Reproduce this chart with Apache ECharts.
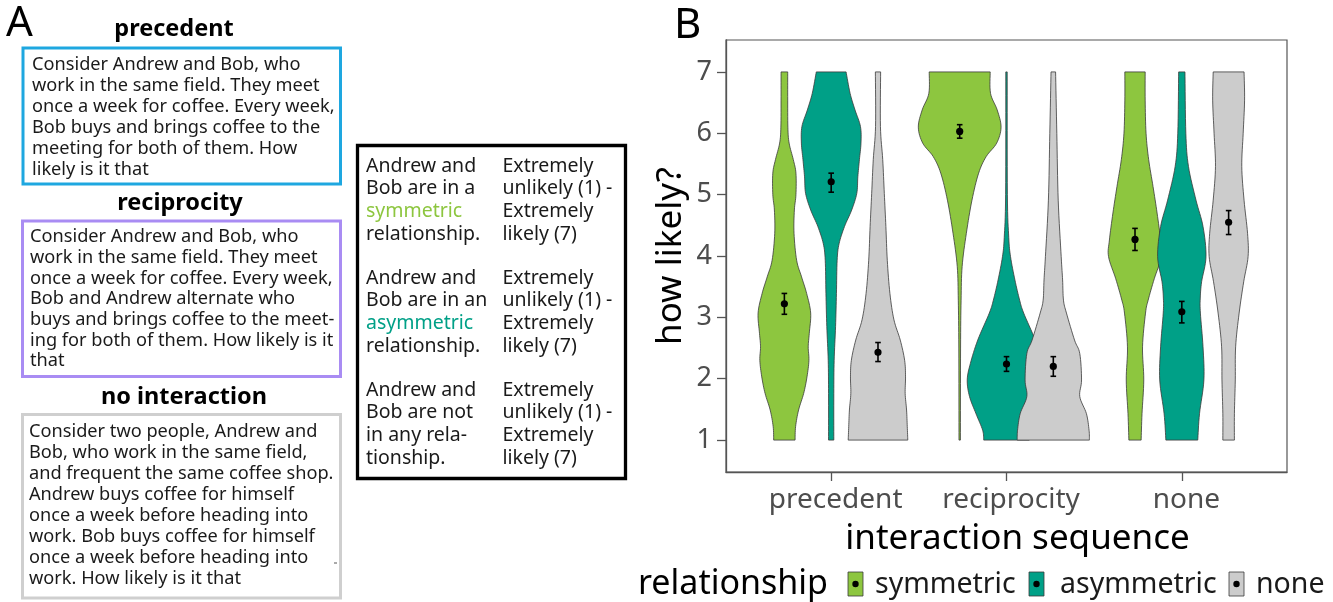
<!DOCTYPE html>
<html><head><meta charset="utf-8">
<script src="https://cdn.jsdelivr.net/npm/echarts@6/dist/echarts.min.js"></script>
<style>html,body{margin:0;padding:0;background:#fff}#c{width:1333px;height:602px}</style>
</head><body><div id="c"></div><script>
// ---------------- data ----------------
const categories = ['precedent', 'reciprocity', 'none'];
const relationships = ['symmetric', 'asymmetric', 'none'];
const yTicks = [1, 2, 3, 4, 5, 6, 7];

// mean rating and 95% CI per interaction sequence
const meanSymmetric   = [3.22, 6.03, 4.27];
const ciLowSymmetric  = [3.05, 5.92, 4.09];
const ciHighSymmetric = [3.39, 6.14, 4.45];
const meanAsymmetric   = [5.21, 2.24, 3.09];
const ciLowAsymmetric  = [5.04, 2.12, 2.91];
const ciHighAsymmetric = [5.35, 2.36, 3.26];
const meanNone   = [2.43, 2.20, 4.55];
const ciLowNone  = [2.28, 2.04, 4.35];
const ciHighNone = [2.59, 2.36, 4.74];

// violin density profiles: [rating, half width (category units)]
const densitySymPrecedent = [[1,0.061],[1.22,0.064],[1.49,0.081],[1.76,0.110],[2.03,0.129],[2.3,0.140],[2.52,0.136],[2.74,0.142],[3.07,0.150],[3.39,0.127],[3.66,0.098],[3.93,0.070],[4.37,0.055],[4.75,0.057],[5.0,0.066],[5.35,0.066],[5.57,0.051],[5.84,0.027],[6.1,0.020],[6.6,0.019],[7,0.019]];
const densityAsymPrecedent = [[1,0.015],[1.76,0.015],[2.3,0.017],[2.85,0.025],[3.39,0.030],[3.93,0.034],[4.2,0.045],[4.48,0.076],[4.75,0.117],[5.02,0.146],[5.29,0.152],[5.57,0.161],[5.84,0.170],[6.11,0.167],[6.38,0.136],[6.65,0.108],[7,0.085]];
const densityNonePrecedent = [[1,0.170],[1.22,0.167],[1.49,0.163],[1.76,0.155],[2.03,0.157],[2.3,0.152],[2.63,0.127],[2.96,0.091],[3.39,0.068],[3.93,0.053],[4.48,0.045],[5.02,0.036],[5.57,0.027],[6.11,0.014],[7,0.015]];
const densitySymReciprocity = [[1,0.004],[2.5,0.005],[3.28,0.008],[3.83,0.014],[4.37,0.038],[4.91,0.070],[5.35,0.108],[5.62,0.151],[5.84,0.211],[6.1,0.236],[6.38,0.214],[6.65,0.176],[7,0.174]];
const densityAsymReciprocity = [[1,0.130],[1.16,0.136],[1.43,0.174],[1.71,0.211],[1.98,0.224],[2.25,0.206],[2.63,0.164],[3.07,0.098],[3.28,0.075],[3.61,0.048],[3.99,0.023],[4.3,0.013],[5.0,0.005],[7,0.004]];
const densityNoneReciprocity = [[1,0.206],[1.16,0.204],[1.43,0.189],[1.71,0.151],[1.98,0.161],[2.41,0.151],[2.63,0.121],[3.07,0.075],[3.28,0.058],[3.61,0.053],[3.99,0.045],[4.91,0.028],[6.0,0.020],[7,0.013]];
const densitySymNone = [[1,0.035],[1.43,0.040],[1.98,0.050],[2.52,0.043],[3.07,0.060],[3.28,0.075],[3.63,0.110],[3.99,0.151],[4.26,0.146],[4.7,0.126],[5.13,0.103],[5.57,0.078],[6.0,0.063],[6.54,0.058],[7,0.058]];
const densityAsymNone = [[1,0.091],[1.43,0.101],[1.98,0.126],[2.52,0.121],[3.07,0.106],[3.3,0.105],[3.58,0.113],[3.99,0.138],[4.48,0.121],[4.91,0.081],[5.46,0.038],[6.0,0.023],[7,0.018]];
const densityNoneNone = [[1,0.033],[1.43,0.033],[1.98,0.038],[2.52,0.040],[3.07,0.060],[3.58,0.086],[3.99,0.111],[4.37,0.108],[4.91,0.088],[5.46,0.075],[6.0,0.083],[6.54,0.091],[7,0.088]];

// panel A texts
const titlePrecedent = 'precedent';
const titleReciprocity = 'reciprocity';
const titleNoInteraction = 'no interaction';
const linesPrecedent = ['Consider Andrew and Bob, who','work in the same field. They meet','once a week for coffee. Every week,','Bob buys and brings coffee to the','meeting for both of them. How','likely is it that'];
const linesReciprocity = ['Consider Andrew and Bob, who','work in the same field. They meet','once a week for coffee. Every week,','Bob and Andrew alternate who','buys and brings coffee to the meet-','ing for both of them. How likely is it','that'];
const linesNoInteraction = ['Consider two people, Andrew and','Bob, who work in the same field,','and frequent the same coffee shop.','Andrew buys coffee for himself','once a week before heading into','work. Bob buys coffee for himself','once a week before heading into','work. How likely is it that'];
const questionSymmetric = ['Andrew and','Bob are in a','symmetric','relationship.'];
const questionAsymmetric = ['Andrew and','Bob are in an','asymmetric','relationship.'];
const questionNone = ['Andrew and','Bob are not','in any rela-','tionship.'];
const scaleText = ['Extremely','unlikely (1) -','Extremely','likely (7)'];

// ---------------- styling ----------------
const FONT = '"Noto Sans", "Open Sans", sans-serif';
const colors = ['#8dc63f', '#00a087', '#cccccc'];
const dodge = [-0.267, 0, 0.267];
const densities = [
  [densitySymPrecedent, densitySymReciprocity, densitySymNone],
  [densityAsymPrecedent, densityAsymReciprocity, densityAsymNone],
  [densityNonePrecedent, densityNoneReciprocity, densityNoneNone]
];
const means = [meanSymmetric, meanAsymmetric, meanNone];
const ciLows = [ciLowSymmetric, ciLowAsymmetric, ciLowNone];
const ciHighs = [ciHighSymmetric, ciHighAsymmetric, ciHighNone];

function smoothSide(pts, out) {
  const n = pts.length;
  out.push(pts[0]);
  for (let i = 0; i < n - 1; i++) {
    const p0 = pts[Math.max(i - 1, 0)], p1 = pts[i], p2 = pts[i + 1], p3 = pts[Math.min(i + 2, n - 1)];
    const c1 = [p1[0] + (p2[0] - p0[0]) / 6, p1[1] + (p2[1] - p0[1]) / 6];
    const c2 = [p2[0] - (p3[0] - p1[0]) / 6, p2[1] - (p3[1] - p1[1]) / 6];
    for (let k = 1; k <= 8; k++) {
      const t = k / 8, mt = 1 - t;
      out.push([
        mt*mt*mt*p1[0] + 3*mt*mt*t*c1[0] + 3*mt*t*t*c2[0] + t*t*t*p2[0],
        mt*mt*mt*p1[1] + 3*mt*mt*t*c1[1] + 3*mt*t*t*c2[1] + t*t*t*p2[1]
      ]);
    }
  }
}

function violinSeries(r) {
  return {
    type: 'custom', name: relationships[r], coordinateSystem: 'cartesian2d',
    encode: { x: 0, y: 1 },
    data: categories.map((c, i) => [i + 1 + dodge[r], 4]),
    renderItem(params, api) {
      const prof = densities[r][params.dataIndex];
      const xc = api.value(0);
      const left = prof.map(([v, w]) => api.coord([xc - w, v]));
      const right = prof.map(([v, w]) => api.coord([xc + w, v])).reverse();
      const pts = [];
      smoothSide(left, pts);
      smoothSide(right, pts);
      return { type: 'polygon', shape: { points: pts },
        style: { fill: colors[r], stroke: '#3a3a3a', lineWidth: 0.8 } };
    }
  };
}

function meanSeries(r) {
  return {
    type: 'custom', name: relationships[r] + ' mean', coordinateSystem: 'cartesian2d',
    encode: { x: 0, y: 1 },
    data: categories.map((c, i) => [i + 1 + dodge[r], means[r][i], ciLows[r][i], ciHighs[r][i]]),
    z: 5,
    renderItem(params, api) {
      const p = api.coord([api.value(0), api.value(1)]);
      const lo = api.coord([api.value(0), api.value(2)]);
      const hi = api.coord([api.value(0), api.value(3)]);
      const ls = { stroke: '#000', lineWidth: 1.6 };
      return { type: 'group', children: [
        { type: 'line', shape: { x1: lo[0], y1: lo[1], x2: hi[0], y2: hi[1] }, style: ls },
        { type: 'line', shape: { x1: lo[0] - 2.8, y1: lo[1], x2: lo[0] + 2.8, y2: lo[1] }, style: ls },
        { type: 'line', shape: { x1: hi[0] - 2.8, y1: hi[1], x2: hi[0] + 2.8, y2: hi[1] }, style: ls },
        { type: 'circle', shape: { cx: p[0], cy: p[1], r: 3.6 }, style: { fill: '#000' } }
      ] };
    }
  };
}

// ---------------- graphic (panel A, labels, legend) ----------------
const graphics = [];
function txt(text, x, y, size, opts = {}) {
  graphics.push({ type: 'text', x, y, silent: true, style: {
    text, fill: opts.fill || '#1a1a1a', align: opts.align || 'left', verticalAlign: 'middle',
    font: (opts.bold ? 'bold ' : '') + size + 'px ' + FONT } });
}
function box(x, y, w, h, stroke, lw) {
  graphics.push({ type: 'rect', silent: true, shape: { x, y, width: w, height: h },
    style: { fill: 'none', stroke, lineWidth: lw } });
}
txt('A', 6, 24, 42, { fill: '#000' });
txt('B', 674, 26, 42, { fill: '#000' });

txt(titlePrecedent, 174, 29, 23.5, { bold: true, align: 'center', fill: '#000' });
box(23, 48, 317.5, 136, '#1ea7e0', 3);
linesPrecedent.forEach((l, i) => txt(l, 32, 65 + i * 20.9, 18.2));

txt(titleReciprocity, 180, 203, 23.5, { bold: true, align: 'center', fill: '#000' });
box(22.5, 221, 318, 155.5, '#a98cf3', 3);
linesReciprocity.forEach((l, i) => txt(l, 30, 237 + i * 20.7, 18.2));

txt(titleNoInteraction, 184, 397, 23.5, { bold: true, align: 'center', fill: '#000' });
box(22.5, 414.5, 318, 183.5, '#cfcfcf', 3);
linesNoInteraction.forEach((l, i) => txt(l, 29, 432 + i * 21, 18.2));
graphics.push({ type: 'line', silent: true, shape: { x1: 334, y1: 563, x2: 337, y2: 563 }, style: { stroke: '#555', lineWidth: 1 } });

box(357.5, 145.5, 268, 333, '#000', 3.3);
const qRows = [questionSymmetric, questionAsymmetric, questionNone];
const qRowY = [166, 278, 390];
qRows.forEach((rows, k) => {
  rows.forEach((l, i) => {
    let fill = '#1a1a1a';
    if (l === relationships[0]) fill = colors[0];
    if (l === relationships[1]) fill = colors[1];
    txt(l, 366, qRowY[k] + i * 22.7, 19.5, { fill });
  });
  scaleText.forEach((l, i) => txt(l, 502.5, qRowY[k] + i * 22.7, 19.5));
});

// legend
txt('relationship', 638, 584, 34, { fill: '#000' });
const keyX = [848, 1029, 1229];
const labX = [875, 1060, 1256];
relationships.forEach((r, i) => {
  graphics.push({ type: 'rect', silent: true, shape: { x: keyX[i], y: 572, width: 15, height: 24 },
    style: { fill: colors[i], stroke: '#3a3a3a', lineWidth: 0.8 } });
  graphics.push({ type: 'circle', silent: true, shape: { cx: keyX[i] + 7.5, cy: 584, r: 3.2 }, style: { fill: '#000' } });
  txt(r, labX[i], 585, 28.5, { fill: '#1a1a1a' });
});

// ---------------- chart ----------------
const chart = echarts.init(document.getElementById('c'), null, { renderer: 'canvas' });
chart.setOption({
  animation: false,
  backgroundColor: '#fff',
  textStyle: { fontFamily: FONT },
  grid: { left: 726, top: 40, width: 561, height: 432, show: true, borderColor: '#555', borderWidth: 1.2, backgroundColor: 'transparent' },
  xAxis: {
    type: 'value', min: 0.4, max: 3.6,
    axisLine: { show: true, onZero: false, lineStyle: { color: '#555', width: 1.3 } },
    axisTick: { show: true, customValues: [1, 2, 3], length: 9, lineStyle: { color: '#555', width: 1.3 } },
    axisLabel: { customValues: [1, 2, 3], formatter: v => categories[Math.round(v) - 1], fontSize: 28, color: '#4d4d4d', margin: 14, padding: [0, 0, 0, 9], fontFamily: FONT },
    splitLine: { show: false },
    name: 'interaction sequence', nameLocation: 'middle', nameGap: 50,
    nameTextStyle: { fontSize: 35, color: '#000', fontFamily: FONT, padding: [0, 0, 0, 22] }
  },
  yAxis: {
    type: 'value', min: 0.48, max: 7.52,
    axisLine: { show: true, onZero: false, lineStyle: { color: '#555', width: 1.3 } },
    axisTick: { show: true, customValues: yTicks, length: 9, lineStyle: { color: '#555', width: 1.3 } },
    axisLabel: { customValues: yTicks, fontSize: 27, color: '#4d4d4d', margin: 14, fontFamily: FONT },
    splitLine: { show: false },
    name: 'how likely?', nameLocation: 'middle', nameGap: 37, nameRotate: 90,
    nameTextStyle: { fontSize: 35, color: '#000', fontFamily: FONT }
  },
  series: [violinSeries(0), violinSeries(1), violinSeries(2), meanSeries(0), meanSeries(1), meanSeries(2)],
  graphic: graphics
});
</script></body></html>
